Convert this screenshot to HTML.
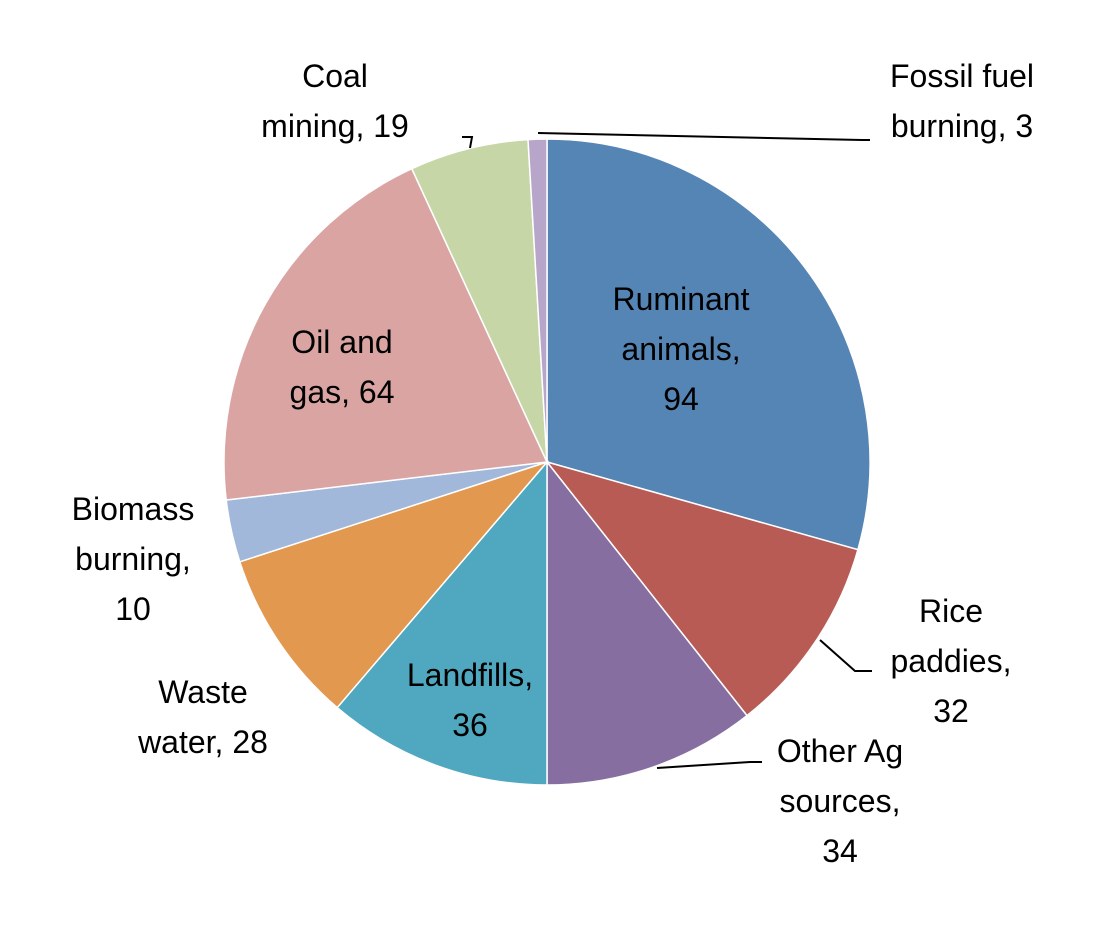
<!DOCTYPE html>
<html><head><meta charset="utf-8"><style>
html,body{margin:0;padding:0;background:#fff;}
svg text{font-family:"Liberation Sans",sans-serif;font-size:32px;fill:#000;text-anchor:middle;}
</style></head><body>
<svg width="1099" height="924" viewBox="0 0 1099 924">
<g stroke="#fff" stroke-width="1.5">
<path d="M547,462 L547,139 A323,323 0 0 1 857.9,549.7 Z" fill="#5585b5"/>
<path d="M547,462 L857.9,549.7 A323,323 0 0 1 747.0,715.6 Z" fill="#b95b55"/>
<path d="M547,462 L747.0,715.6 A323,323 0 0 1 547,785 Z" fill="#866fa0"/>
<path d="M547,462 L547,785 A323,323 0 0 1 337.2,707.6 Z" fill="#4fa8bf"/>
<path d="M547,462 L337.2,707.6 A323,323 0 0 1 239.8,561.8 Z" fill="#e2984f"/>
<path d="M547,462 L239.8,561.8 A323,323 0 0 1 226.2,500.0 Z" fill="#a2b8da"/>
<path d="M547,462 L226.2,500.0 A323,323 0 0 1 411.8,168.7 Z" fill="#daa4a3"/>
<path d="M547,462 L411.8,168.7 A323,323 0 0 1 528.0,139.6 Z" fill="#c6d6a7"/>
<path d="M547,462 L528.0,139.6 A323,323 0 0 1 547,139 Z" fill="#b7a6c9"/>
</g>
<g stroke="#000" stroke-width="2" fill="none">
<polyline points="538,133 862,140 870,140"/>
<polyline points="462,137 472,137 470,148"/>
<polyline points="820,640 855,671 872,671"/>
<polyline points="657,768 750,762 762,762"/>
</g>
<text x="681" y="310">Ruminant</text>
<text x="681" y="360">animals,</text>
<text x="681" y="410">94</text>
<text x="342" y="353">Oil and</text>
<text x="342" y="403">gas, 64</text>
<text x="335" y="87">Coal</text>
<text x="335" y="137">mining, 19</text>
<text x="962" y="87">Fossil fuel</text>
<text x="962" y="137">burning, 3</text>
<text x="133" y="520">Biomass</text>
<text x="133" y="570">burning,</text>
<text x="133" y="620">10</text>
<text x="203" y="703">Waste</text>
<text x="203" y="753">water, 28</text>
<text x="470" y="686">Landfills,</text>
<text x="470" y="736">36</text>
<text x="951" y="622">Rice</text>
<text x="951" y="672">paddies,</text>
<text x="951" y="722">32</text>
<text x="840" y="762">Other Ag</text>
<text x="840" y="812">sources,</text>
<text x="840" y="862">34</text>
</svg>
</body></html>
